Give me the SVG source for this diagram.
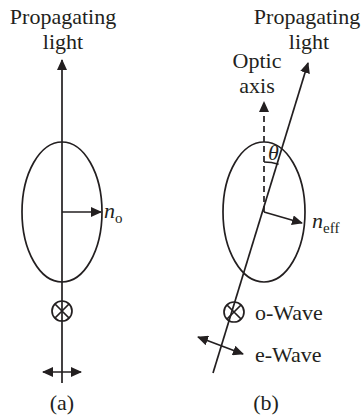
<svg xmlns="http://www.w3.org/2000/svg" width="361" height="418" viewBox="0 0 361 418">
<style>
text{font-family:"Liberation Serif","Times New Roman",serif;font-size:22px;fill:#231f20}
.sub{font-size:15px}
.ln{stroke:#231f20;stroke-width:1.7;fill:none}
.el{stroke:#231f20;stroke-width:1.7;fill:none}
</style>
<defs>
<marker id="ah" markerUnits="userSpaceOnUse" markerWidth="12" markerHeight="10" refX="10" refY="5" orient="auto-start-reverse" viewBox="0 0 12 10">
<path d="M0,0 L11,5 L0,10 Z" fill="#231f20"/>
</marker>
</defs>
<rect width="361" height="418" fill="#fff"/>
<g id="panel-a">
<g id="a-title"><text x="63" y="24" text-anchor="middle">Propagating</text><text x="63" y="49" text-anchor="middle">light</text></g>
<g id="a-ellipse"><ellipse class="el" cx="62" cy="212" rx="40" ry="70"/></g>
<g id="a-no"><text x="104" y="218" font-style="italic">n</text><text x="115" y="223" class="sub">o</text></g>
<g id="a-ox"><circle class="el" cx="62" cy="311" r="10"/><path class="ln" d="M55,304 L69,318 M69,304 L55,318"/></g>
<g id="a-label"><text x="62" y="410" text-anchor="middle">(a)</text></g>
</g>
<g id="panel-b">
<g id="b-title"><text x="307" y="24" text-anchor="middle">Propagating</text><text x="309" y="49" text-anchor="middle">light</text></g>
<g id="b-optic"><text x="257" y="68" text-anchor="middle">Optic</text><text x="257" y="93" text-anchor="middle">axis</text></g>
<g id="b-ellipse"><ellipse class="el" cx="264" cy="212" rx="41" ry="70"/></g>
<g id="b-theta"><text x="268" y="160" font-style="italic">θ</text></g>
<g id="b-neff"><text x="312" y="228" font-style="italic">n</text><text x="323" y="233" class="sub">eff</text></g>
<g id="b-ox"><circle class="el" cx="234" cy="312" r="10"/><path class="ln" d="M227,305 L241,319 M241,305 L227,319"/><text x="255" y="320">o-Wave</text></g>
<g id="b-ew"><text x="255" y="362">e-Wave</text></g>
<g id="b-label"><text x="266" y="410" text-anchor="middle">(b)</text></g>
</g>
<g id="connectors">
<line class="ln" x1="62" y1="383" x2="62" y2="60" marker-end="url(#ah)"/>
<line class="ln" x1="62" y1="212" x2="101" y2="212" marker-end="url(#ah)"/>
<line class="ln" x1="43" y1="372" x2="81" y2="372" marker-start="url(#ah)" marker-end="url(#ah)"/>
<line class="ln" x1="264" y1="212" x2="264" y2="102" stroke-dasharray="6,4" marker-end="url(#ah)"/>
<line class="ln" x1="213" y1="373" x2="308" y2="63" marker-end="url(#ah)"/>
<line class="ln" x1="264" y1="212" x2="302" y2="223" marker-end="url(#ah)"/>
<path class="ln" d="M264,162 A50,50 0 0 1 278.6,164.2"/>
<line class="ln" x1="198" y1="337" x2="243" y2="354" marker-start="url(#ah)" marker-end="url(#ah)"/>
</g>
</svg>
